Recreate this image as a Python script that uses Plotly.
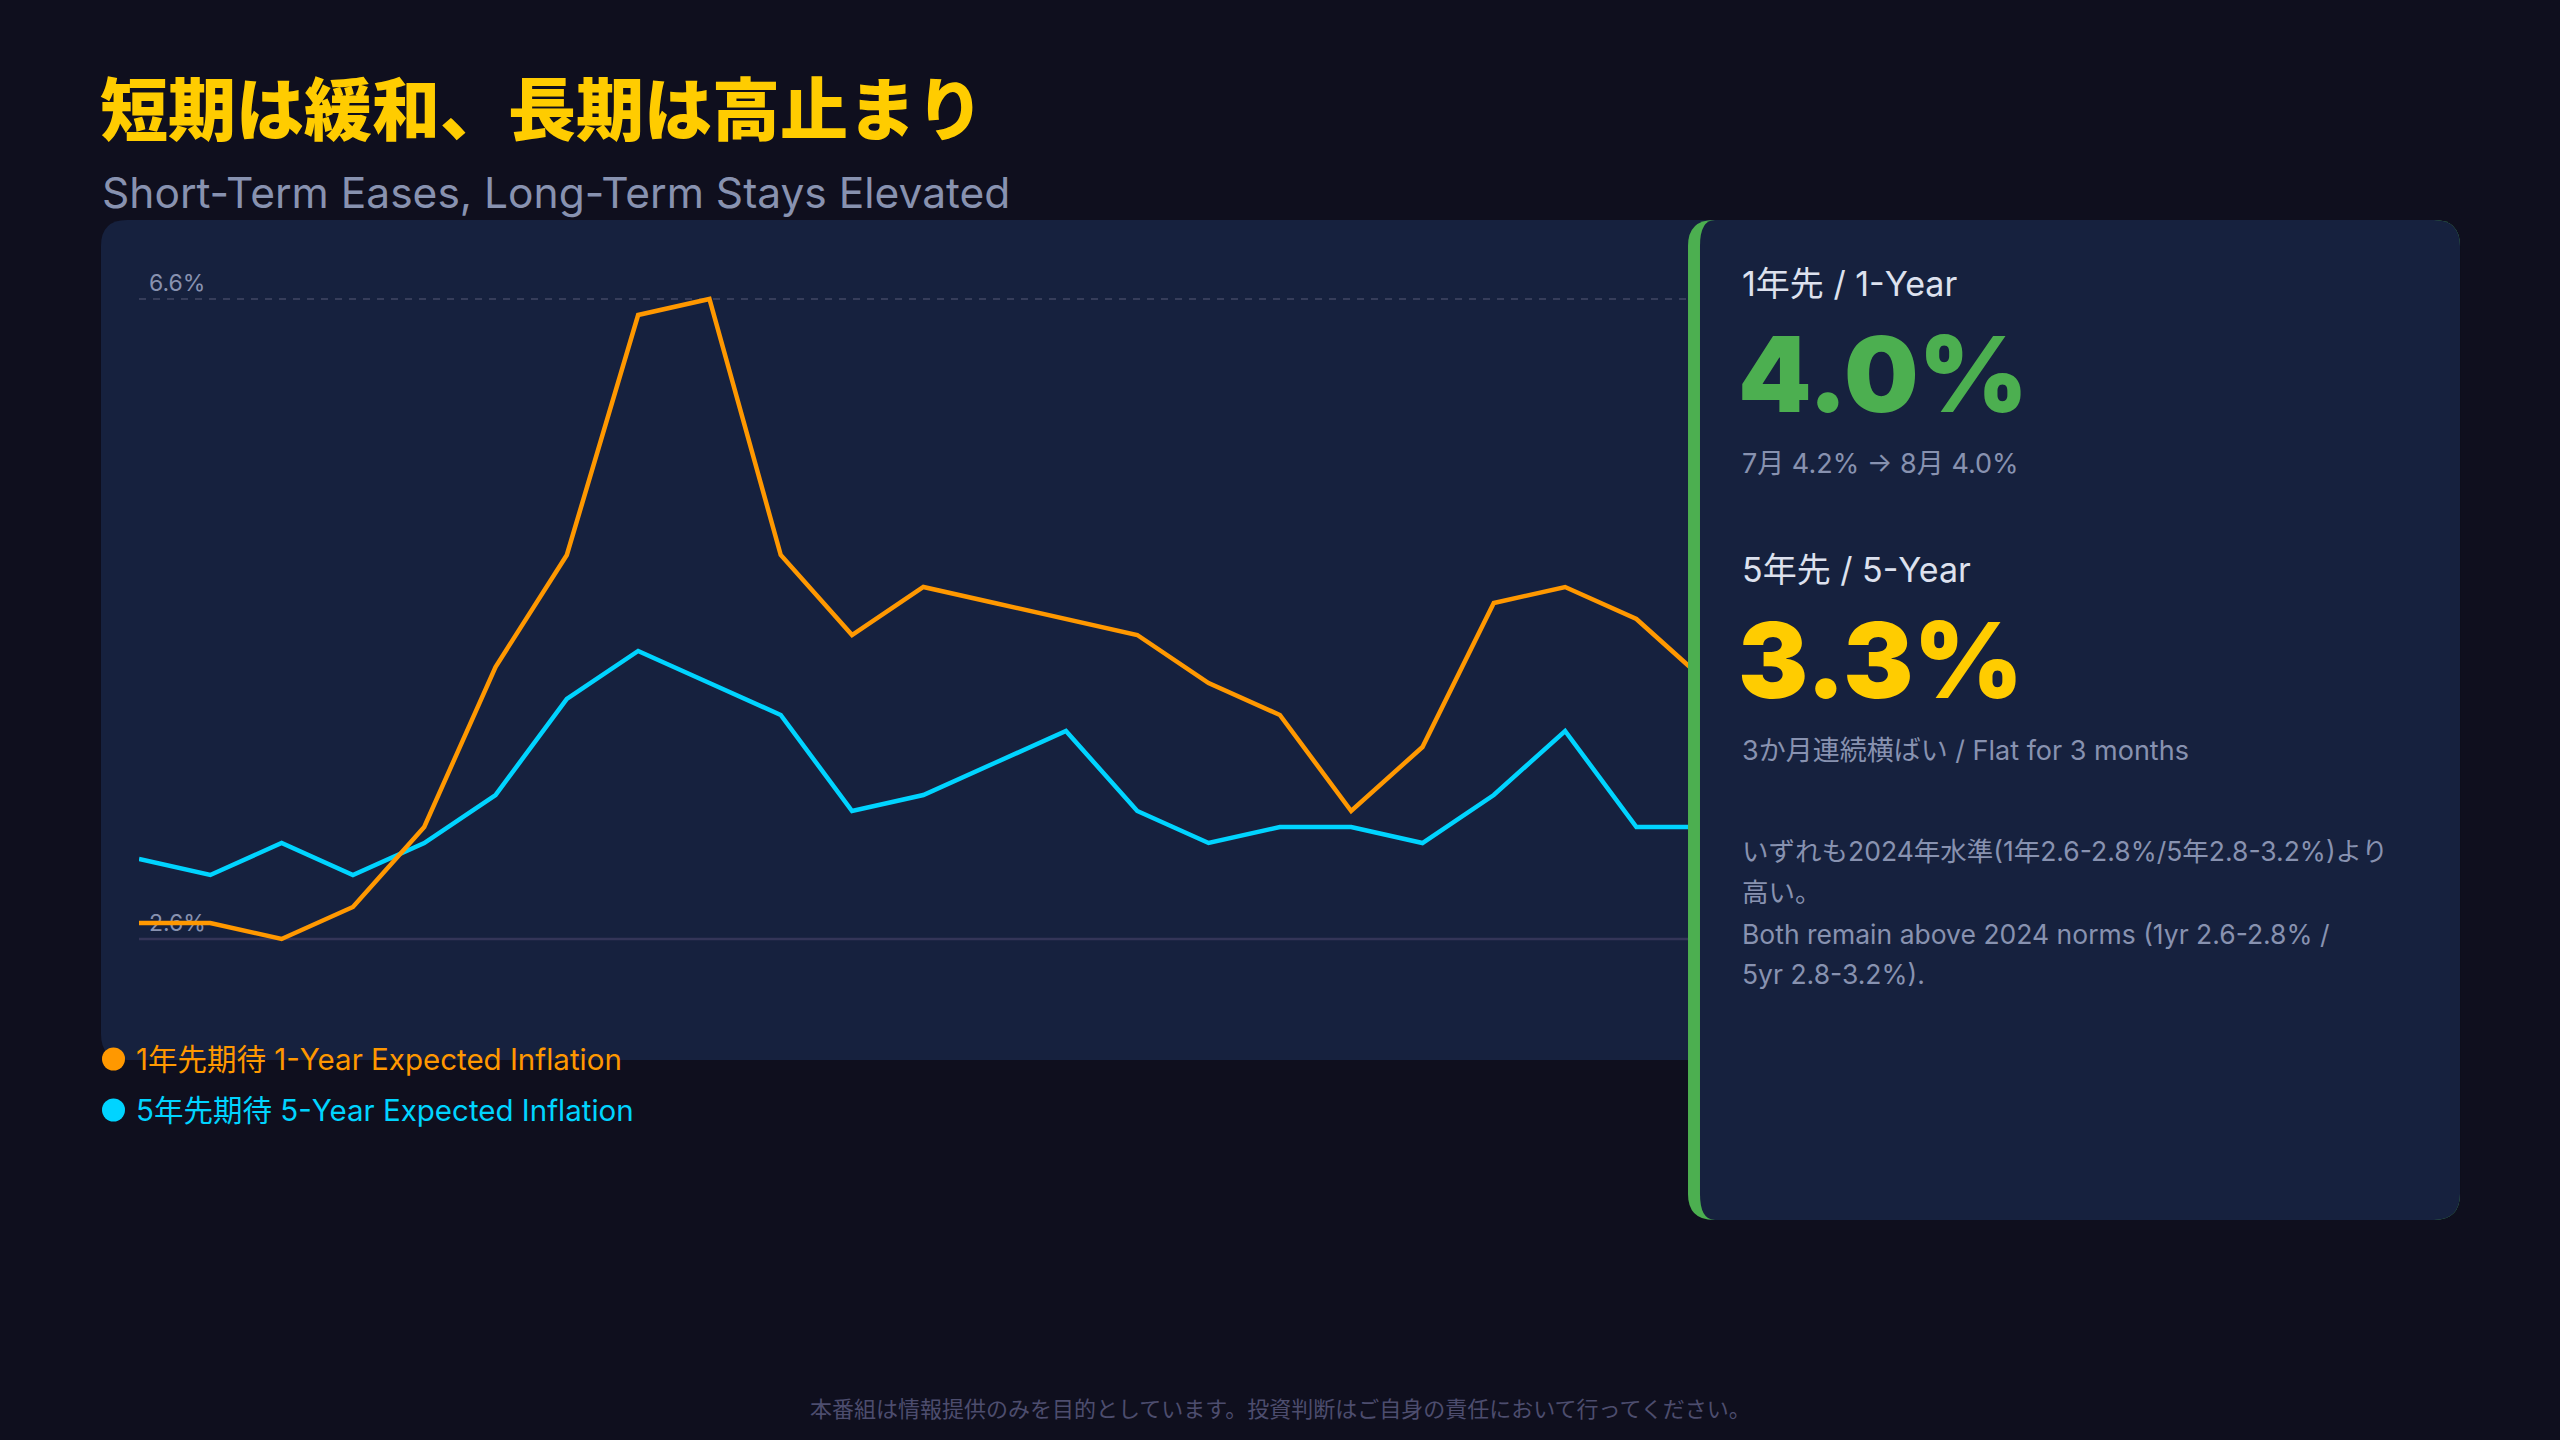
import plotly.graph_objects as go

W, H = 2560, 1440

BG = "#0f0f1e"
CARD = "#16213e"
YELLOW = "#ffcc00"
GREEN = "#4caf50"
ORANGE = "#ff9800"
CYAN = "#00d4ff"
MUTED = "#8892b0"
LIGHT = "#dde1ee"
JP = "Noto Sans CJK JP"
FONT = "Inter, Noto Sans CJK JP"

# Michigan-style expected inflation, monthly (%)
months = [
    "2024-09", "2024-10", "2024-11", "2024-12",
    "2025-01", "2025-02", "2025-03", "2025-04", "2025-05", "2025-06",
    "2025-07", "2025-08", "2025-09", "2025-10", "2025-11", "2025-12",
    "2026-01", "2026-02", "2026-03", "2026-04", "2026-05", "2026-06",
    "2026-07", "2026-08",
]
one_year = [2.7, 2.7, 2.6, 2.8, 3.3, 4.3, 5.0, 6.5, 6.6, 5.0, 4.5, 4.8,
            4.7, 4.6, 4.5, 4.2, 4.0, 3.4, 3.8, 4.7, 4.8, 4.6, 4.2, 4.0]
five_year = [3.1, 3.0, 3.2, 3.0, 3.2, 3.5, 4.1, 4.4, 4.2, 4.0, 3.4, 3.5,
             3.7, 3.9, 3.4, 3.2, 3.3, 3.3, 3.2, 3.5, 3.9, 3.3, 3.3, 3.3]

series_names = ["1年先期待 1-Year Expected Inflation", "5年先期待 5-Year Expected Inflation"]

y_lo = min(one_year + five_year)
y_hi = max(one_year + five_year)

# plot box in pixels
PX_LEFT, PX_RIGHT = 139, 1779
PX_TOP, PX_BOT = 299, 939  # where y_hi / y_lo sit
pad_lo, pad_hi = 0.1, 0.4
per_unit = (PX_BOT - PX_TOP) / (y_hi - y_lo)


def px(x):
    return x / W


def py(y):
    return 1 - y / H


def rounded(x0, y0, x1, y1, r, rxl=None, ryl=None):
    # rounded rectangle path in paper coords; left corners may use rx/ry
    rxl = r if rxl is None else rxl
    ryl = r if ryl is None else ryl
    pts = [
        ("M", [(x0 + rxl, y0)]),
        ("L", [(x1 - r, y0)]),
        ("Q", [(x1, y0), (x1, y0 + r)]),
        ("L", [(x1, y1 - r)]),
        ("Q", [(x1, y1), (x1 - r, y1)]),
        ("L", [(x0 + rxl, y1)]),
        ("Q", [(x0, y1), (x0, y1 - ryl)]),
        ("L", [(x0, y0 + ryl)]),
        ("Q", [(x0, y0), (x0 + rxl, y0)]),
    ]
    out = []
    for cmd, ps in pts:
        out.append(cmd + " " + " ".join(f"{px(a):.5f},{py(b):.5f}" for a, b in ps))
    return " ".join(out) + " Z"


fig = go.Figure()

fig.add_trace(go.Scatter(
    x=months, y=five_year, mode="lines", name=series_names[1],
    line=dict(color=CYAN, width=4.5), showlegend=False, hoverinfo="skip",
))
fig.add_trace(go.Scatter(
    x=months, y=one_year, mode="lines", name=series_names[0],
    line=dict(color=ORANGE, width=4.5), showlegend=False, hoverinfo="skip",
))

shapes = [
    # chart card (right side tucked under the summary panel)
    dict(type="path", path=rounded(101, 220, 1820, 1060, 26), xref="paper", yref="paper",
         fillcolor=CARD, line=dict(width=0), layer="below"),
    dict(type="line", xref="x domain", yref="y", x0=0, x1=1, y0=y_hi, y1=y_hi,
         line=dict(color="#363d5a", width=2, dash="7px,7px"), layer="below"),
    dict(type="line", xref="x domain", yref="y", x0=0, x1=1, y0=y_lo, y1=y_lo,
         line=dict(color="#343558", width=2.5), layer="below"),
    # summary panel with green accent edge
    dict(type="path", path=rounded(1688, 220, 2460, 1220, 26), xref="paper", yref="paper",
         fillcolor=GREEN, line=dict(width=0), layer="above"),
    dict(type="path", path=rounded(1700, 220, 2460, 1220, 26, rxl=15, ryl=26), xref="paper",
         yref="paper", fillcolor=CARD, line=dict(width=0), layer="above"),
]

# legend dots
for yy, col in [(1059, ORANGE), (1110, CYAN)]:
    shapes.append(dict(type="circle", xref="paper", yref="paper",
                       x0=px(102), x1=px(125), y0=py(yy - 11.5), y1=py(yy + 11.5),
                       fillcolor=col, line=dict(width=0), layer="above"))


def txt(x, y, s, size, color, weight=400, xanchor="left", family=FONT):
    return dict(x=px(x), y=py(y), xref="paper", yref="paper", text=s, showarrow=False,
                xanchor=xanchor, yanchor="middle", align="left",
                font=dict(family=family, size=size, color=color, weight=weight))


annotations = [
    txt(98, 106, "短期は緩和、長期は高止まり", 68, YELLOW, 900, family=JP),
    txt(100, 193, "Short-Term Eases, Long-Term Stays Elevated", 42.5, MUTED),
    txt(134, 1059, series_names[0], 29.5, ORANGE),
    txt(134, 1110, series_names[1], 29.5, CYAN),
    txt(1740, 284, "1年先 / 1-Year", 34, LIGHT),
    txt(1736, 374, f"{one_year[-1]:.1f}%", 105, GREEN, 900),
    txt(1740, 464, f"7月 {one_year[-2]:.1f}% → 8月 {one_year[-1]:.1f}%", 27, MUTED),
    txt(1740, 570, "5年先 / 5-Year", 34, LIGHT),
    txt(1736, 660, f"{five_year[-1]:.1f}%", 105, YELLOW, 900),
    txt(1740, 750, "3か月連続横ばい / Flat for 3 months", 27, MUTED),
    txt(1740, 851, "いずれも2024年水準(1年2.6-2.8%/5年2.8-3.2%)より", 26.5, MUTED),
    txt(1740, 892, "高い。", 26.5, MUTED),
    txt(1740, 934, "Both remain above 2024 norms (1yr 2.6-2.8% /", 26.5, MUTED),
    txt(1740, 974, "5yr 2.8-3.2%).", 26.5, MUTED),
    txt(1280, 1407, "本番組は情報提供のみを目的としています。投資判断はご自身の責任において行ってください。",
        22, "#4d4d6e", xanchor="center", family=JP),
]

fig.update_layout(
    width=W, height=H,
    margin=dict(l=0, r=0, t=0, b=0),
    paper_bgcolor=BG,
    plot_bgcolor="rgba(0,0,0,0)",
    showlegend=False,
    shapes=shapes,
    annotations=annotations,
    xaxis=dict(
        visible=False,
        domain=[px(PX_LEFT), px(PX_RIGHT)],
        range=[0, len(months) - 1],
        type="category",
    ),
    yaxis=dict(
        domain=[py(PX_BOT + pad_lo * per_unit), py(PX_TOP - pad_hi * per_unit)],
        range=[y_lo - pad_lo, y_hi + pad_hi],
        tickvals=[y_lo, y_hi],
        ticktext=[f"{y_lo:.1f}%", f"{y_hi:.1f}%"],
        ticklabelposition="inside top",
        ticklabelstandoff=7,
        ticks="",
        showgrid=False,
        zeroline=False,
        showline=False,
        layer="below traces",
        tickfont=dict(family=FONT, size=23, color=MUTED),
    ),
)

fig.write_html("out.html", config={"displayModeBar": False},
               post_script="document.body.style.margin='0';")
